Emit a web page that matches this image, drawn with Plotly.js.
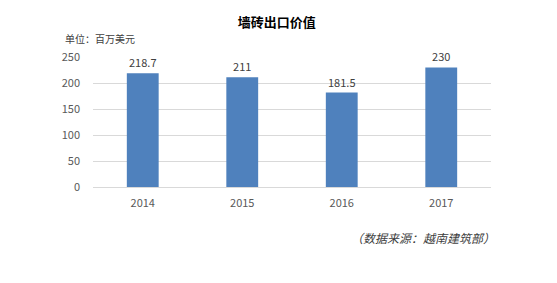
<!DOCTYPE html>
<html><head><meta charset="utf-8">
<script src="https://cdn.plot.ly/plotly-3.0.1.min.js"></script>
<style>html,body{margin:0;padding:0;background:#fff}#c{width:557px;height:283px}</style>
</head><body><div id="c"></div>
<script>
const years = ['2014','2015','2016','2017'];
const values = [218.7, 211, 181.5, 230];
const valueLabels = ['218.7','211','181.5','230'];
const titleText = '墙砖出口价值';
const unitText = '单位：百万美元';
const sourceText = '（数据来源：越南建筑部）';
const yTicks = [0,50,100,150,200,250];

const font = '"Microsoft YaHei","Noto Sans CJK SC","Liberation Sans",sans-serif';
Plotly.newPlot('c', [{
  type:'bar', x: years, y: values,
  marker:{color:'#4f81bd'},
  text: valueLabels, textposition:'outside', cliponaxis:false,
  textfont:{size:11,color:'#404040',family:font},
  width:0.32, hoverinfo:'none'
}], {
  width:557, height:283,
  margin:{l:93,r:66,t:57,b:96},
  paper_bgcolor:'#fff', plot_bgcolor:'#fff',
  font:{family:font,size:11,color:'#595959'},
  showlegend:false,
  title:{text:'<b>'+titleText+'</b>', x:0.497, xanchor:'center', y:0.922, yanchor:'middle', font:{size:13,color:'#000',family:font}},
  xaxis:{type:'category', showgrid:false, showline:true, linecolor:'#d9d9d9', ticks:'', tickfont:{size:11,color:'#595959'}, ticklabelstandoff:6},
  yaxis:{range:[0,250], tickvals:yTicks, showgrid:true, gridcolor:'#d9d9d9', zeroline:false, showline:false, ticks:'', tickfont:{size:11,color:'#595959'}, ticklabelstandoff:12},
  annotations:[
    {text:unitText, xref:'paper', yref:'paper', x:-0.075, y:1.14, xanchor:'left', yanchor:'middle', showarrow:false, font:{size:10,color:'#404040',family:font}},
    {text:'<i>'+sourceText+'</i>', xref:'paper', yref:'paper', x:1.015, y:-0.385, xanchor:'right', yanchor:'middle', showarrow:false, font:{size:12,color:'#404040',family:font}}
  ]
}, {staticPlot:true});
</script></body></html>
